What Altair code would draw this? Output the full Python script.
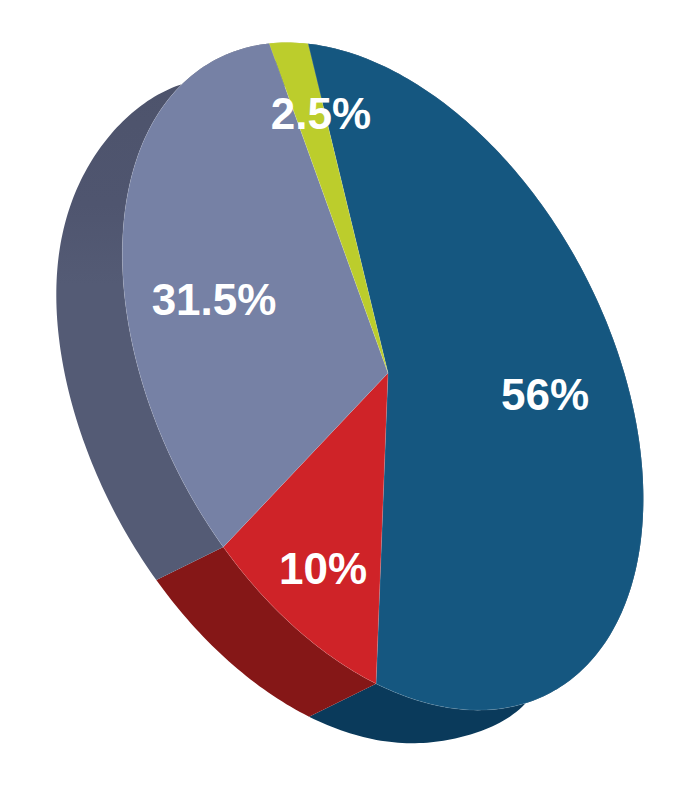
import math
import altair as alt

names = ["Blue", "Red", "Grey", "Green"]
shares = [56.0, 10.0, 31.5, 2.5]
labels = ["56%", "10%", "31.5%", "2.5%"]
top_colors = ["#155780", "#cf2328", "#7681a5", "#bccd2c"]
side_colors = ["#0a3a5b", "#851717", "#545b75", "#a9b826"]
label_lon = [537, 315, 206, 313]
label_lat = [389, 563, 294, 108]

# Pie geometry: an ellipse seen obliquely, with a depth offset
CX, CY = 375.0, 367.5
APEX = [380.0, 365.0]
SXX, SYX, SYY = 260.0, 122.0, 310.0
DX, DY = -67.0, 33.0
START = -106.5


def rim(deg, shift=False):
    # slight perspective: the near side of the pie is stretched
    near = 1 + math.cos(math.radians(deg - 105))
    t = math.radians(deg - 1.8 * near)
    r = 0.999 + 0.003 * near
    if shift:
        # the far rim is a little pulled in upper left, pushed out lower right
        upper_left = max(0.0, math.cos(t + math.radians(145))) ** 9
        lower_right = max(0.0, math.cos(t - math.radians(38))) ** 30
        r *= 1 - 0.025 * upper_left + 0.022 * lower_right
    u, v = r * math.cos(t), r * math.sin(t)
    x = CX + SXX * u
    y = CY + SYX * u + SYY * v
    return [x + DX, y + DY] if shift else [x, y]


def arc(a, b, shift=False):
    n = max(8, int(abs(b - a)))
    return [rim(a + (b - a) * i / n, shift) for i in range(n + 1)]


tops, sides = [], []
a = START
for name, share in zip(names, shares):
    b = a + share * 3.6
    top_ring = [APEX] + arc(a, b) + [APEX]
    tops.append({"type": "Feature", "properties": {"name": name},
                 "geometry": {"type": "Polygon", "coordinates": [top_ring]}})
    outer = arc(a, b)
    inner = arc(a, b, True)[::-1]
    side_ring = outer + inner + [outer[0]]
    sides.append({"type": "Feature", "properties": {"name": name},
                  "geometry": {"type": "Polygon", "coordinates": [side_ring]}})
    a = b

proj = dict(type="identity", scale=1, translate=[0, 0])

grey_side = alt.Gradient(
    gradient="linear", x1=0, x2=0, y1=0, y2=1,
    stops=[alt.GradientStop(offset=0, color="#4d536b"),
           alt.GradientStop(offset=0.3, color="#4f556f"),
           alt.GradientStop(offset=0.45, color="#545b75"),
           alt.GradientStop(offset=1, color="#545b75")],
)

side_layers = []
for i, name in enumerate(names):
    fill = grey_side if name == "Grey" else side_colors[i]
    side_layers.append(
        alt.Chart(alt.Data(values=[sides[i]]))
        .mark_geoshape(fill=fill, strokeWidth=0)
        .project(**proj)
    )

top_layer = (
    alt.Chart(alt.Data(values=tops))
    .mark_geoshape(stroke="#ffffff", strokeOpacity=0.18, strokeWidth=0.6)
    .encode(
        fill=alt.Fill("properties.name:N", legend=None,
                      scale=alt.Scale(domain=names, range=top_colors)),
    )
    .project(**proj)
)
text_layer = (
    alt.Chart(alt.Data(values=[
        {"label": l, "lon": x, "lat": y}
        for l, x, y in zip(labels, label_lon, label_lat)
    ]))
    .mark_text(font="Liberation Sans", fontWeight="bold", fontSize=44,
               color="#ffffff", align="center", baseline="middle")
    .encode(longitude="lon:Q", latitude="lat:Q", text="label:N")
    .project(**proj)
)

chart = (
    alt.layer(*side_layers, top_layer, text_layer)
    .properties(width=670, height=784, padding=0, background="#ffffff")
    .configure_view(stroke=None)
)
chart.save("out.html", embed_options={"renderer": "svg", "actions": False})
